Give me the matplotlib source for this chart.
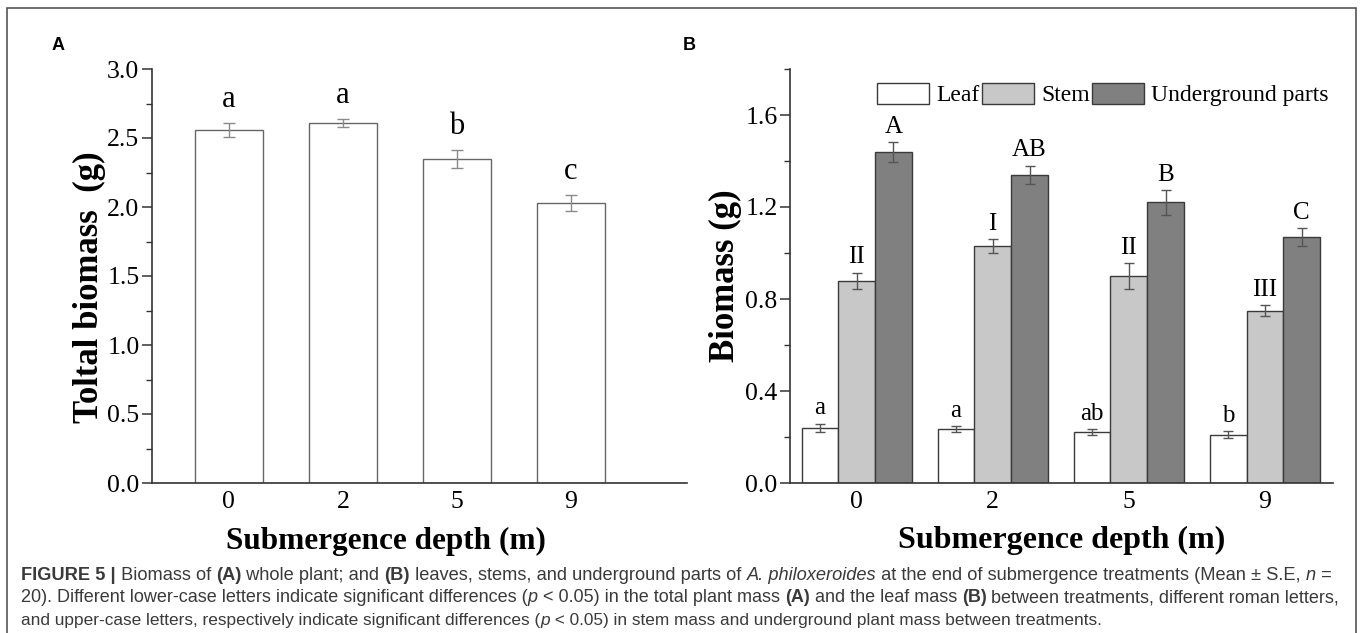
import matplotlib
matplotlib.use("Agg")
import matplotlib.pyplot as plt
import numpy as np
from matplotlib.patches import Rectangle
from matplotlib.ticker import MultipleLocator

# ---------------- data ----------------
depths = ["0", "2", "5", "9"]
total_mean = [2.56, 2.61, 2.35, 2.03]
total_se = [0.05, 0.03, 0.065, 0.06]
total_letters = ["a", "a", "b", "c"]

leaf_mean = [0.24, 0.235, 0.22, 0.21]
leaf_se = [0.018, 0.014, 0.013, 0.014]
stem_mean = [0.88, 1.03, 0.90, 0.75]
stem_se = [0.035, 0.032, 0.055, 0.022]
under_mean = [1.44, 1.34, 1.22, 1.07]
under_se = [0.043, 0.04, 0.055, 0.04]
leaf_letters = ["a", "a", "ab", "b"]
stem_letters = ["II", "I", "II", "III"]
under_letters = ["A", "AB", "B", "C"]
series_names = ["Leaf", "Stem", "Underground parts"]

W, H = 1363, 633
fig = plt.figure(figsize=(W / 100, H / 100), dpi=100)
serif = "Liberation Serif"

def ax_rect(x0, y0, x1, y1):
    return [x0 / W, 1 - y1 / H, (x1 - x0) / W, (y1 - y0) / H]

# ---------------- panel A ----------------
axA = fig.add_axes(ax_rect(152, 69, 687, 483))
x = np.arange(len(depths))
axA.bar(x, total_mean, width=0.6, color="white", edgecolor="#666666", linewidth=1.0, zorder=2)
axA.errorbar(x, total_mean, yerr=total_se, fmt="none", ecolor="#8a8a8a", elinewidth=1.0,
             capsize=4, capthick=1.0, zorder=3)
for xi, m, s, t in zip(x, total_mean, total_se, total_letters):
    axA.annotate(t, (xi, m + s), xytext=(0, 6), textcoords="offset points", ha="center",
                 va="bottom", fontsize=22, family=serif)
axA.set_xlim(-0.675, 4.02)
axA.set_ylim(0, 3.0)
axA.yaxis.set_major_locator(MultipleLocator(0.5))
axA.yaxis.set_minor_locator(MultipleLocator(0.25))
axA.set_xticks(x)
axA.set_xticklabels(depths)
axA.set_ylabel("Toltal biomass  (g)", fontsize=25, fontweight="bold", family=serif, labelpad=1)
axA.yaxis.label.set_y(0.473)
axA.set_xlabel("Submergence depth (m)", fontsize=22.5, fontweight="bold", family=serif, labelpad=10)
axA.xaxis.label.set_x((386 - 152) / (687 - 152))

# ---------------- panel B ----------------
axB = fig.add_axes(ax_rect(790, 69, 1333, 483))
bw = 0.27
cols = ["white", "#c8c8c8", "#808080"]
means = [leaf_mean, stem_mean, under_mean]
ses = [leaf_se, stem_se, under_se]
letters = [leaf_letters, stem_letters, under_letters]
for k in range(3):
    xs = x + (k - 1) * bw
    axB.bar(xs, means[k], width=bw, color=cols[k], edgecolor="#3a3a3a", linewidth=1.0,
            zorder=2, label=series_names[k])
    axB.errorbar(xs, means[k], yerr=ses[k], fmt="none", ecolor="#555555", elinewidth=1.0,
                 capsize=3.5, capthick=1.0, zorder=3)
    for xi, m, s, t in zip(xs, means[k], ses[k], letters[k]):
        axB.annotate(t, (xi, m + s), xytext=(0, 3), textcoords="offset points", ha="center",
                     va="bottom", fontsize=18, family=serif)
axB.set_xlim(-0.49, 3.5)
axB.set_ylim(0, 1.8)
axB.yaxis.set_major_locator(MultipleLocator(0.4))
axB.yaxis.set_minor_locator(MultipleLocator(0.2))
axB.set_xticks(x)
axB.set_xticklabels(depths)
axB.set_ylabel("Biomass (g)", fontsize=25, fontweight="bold", family=serif, labelpad=2)
axB.set_xlabel("Submergence depth (m)", fontsize=23, fontweight="bold", family=serif, labelpad=9)
axB.legend(loc="upper right", bbox_to_anchor=(1.009, 0.99), ncol=3, frameon=False,
           prop={"family": serif, "size": 17}, handlelength=2.2, handleheight=1.0,
           handletextpad=0.3, columnspacing=0.1, borderaxespad=0.0)

for ax in (axA, axB):
    for sp in ("top", "right"):
        ax.spines[sp].set_visible(False)
    for sp in ("left", "bottom"):
        ax.spines[sp].set_color("#333333")
        ax.spines[sp].set_linewidth(1.2)
    ax.tick_params(axis="y", which="major", direction="out", length=7, width=1.1,
                   color="#333333", labelsize=18.5, pad=2)
    ax.tick_params(axis="y", which="minor", direction="out", length=4, width=1.0, color="#333333")
    ax.tick_params(axis="x", which="both", length=0, labelsize=18.5, pad=6)
    for lab in ax.get_xticklabels() + ax.get_yticklabels():
        lab.set_family(serif)

fig.text(52 / W, 1 - 45 / H, "A", fontsize=13, fontweight="bold", family="Liberation Sans",
         ha="left", va="center")
fig.text(683 / W, 1 - 45 / H, "B", fontsize=13, fontweight="bold", family="Liberation Sans",
         ha="left", va="center")

# outer frame
fig.patches.append(Rectangle((7 / W, -0.02), (1356 - 7) / W, 1.02 - 8 / H, transform=fig.transFigure,
                             fill=False, edgecolor="#555555", linewidth=1.2))

# ---------------- caption ----------------
cap_lines = [
    [("FIGURE 5 |", "bold", "normal"), (" Biomass of ", "normal", "normal"), ("(A)", "bold", "normal"),
     (" whole plant; and ", "normal", "normal"), ("(B)", "bold", "normal"),
     (" leaves, stems, and underground parts of ", "normal", "normal"),
     ("A. philoxeroides", "normal", "italic"),
     (" at the end of submergence treatments (Mean \u00b1 S.E, ", "normal", "normal"),
     ("n", "normal", "italic"), (" =", "normal", "normal")],
    [("20). Different lower-case letters indicate significant differences (", "normal", "normal"),
     ("p", "normal", "italic"), (" < 0.05) in the total plant mass ", "normal", "normal"),
     ("(A)", "bold", "normal"), (" and the leaf mass ", "normal", "normal"), ("(B)", "bold", "normal"),
     (" between treatments, different roman letters,", "normal", "normal")],
    [("and upper-case letters, respectively indicate significant differences (", "normal", "normal"),
     ("p", "normal", "italic"),
     (" < 0.05) in stem mass and underground plant mass between treatments.", "normal", "normal")],
]
cap_y = [575, 598, 620]
cap_end = [1328, 1335, 1100]
x0_cap = 21
renderer = fig.canvas.get_renderer()

def draw_line(runs, yy, fs, draw=True):
    xpix = x0_cap
    arts = []
    for txt, wt, st in runs:
        t = fig.text(xpix / W, 1 - yy / H, txt, fontsize=fs, fontweight=wt, fontstyle=st,
                     family="Liberation Sans", color="#3a3a3a", ha="left", va="center")
        bb = t.get_window_extent(renderer)
        xpix += bb.width
        arts.append(t)
    if not draw:
        for a in arts:
            a.remove()
    return xpix

for runs, yy, xe in zip(cap_lines, cap_y, cap_end):
    base = 13.0
    wdt = draw_line(runs, yy, base, draw=False) - x0_cap
    fs = base * (xe - x0_cap) / wdt
    draw_line(runs, yy, fs)

fig.savefig("out.png", dpi=100)
